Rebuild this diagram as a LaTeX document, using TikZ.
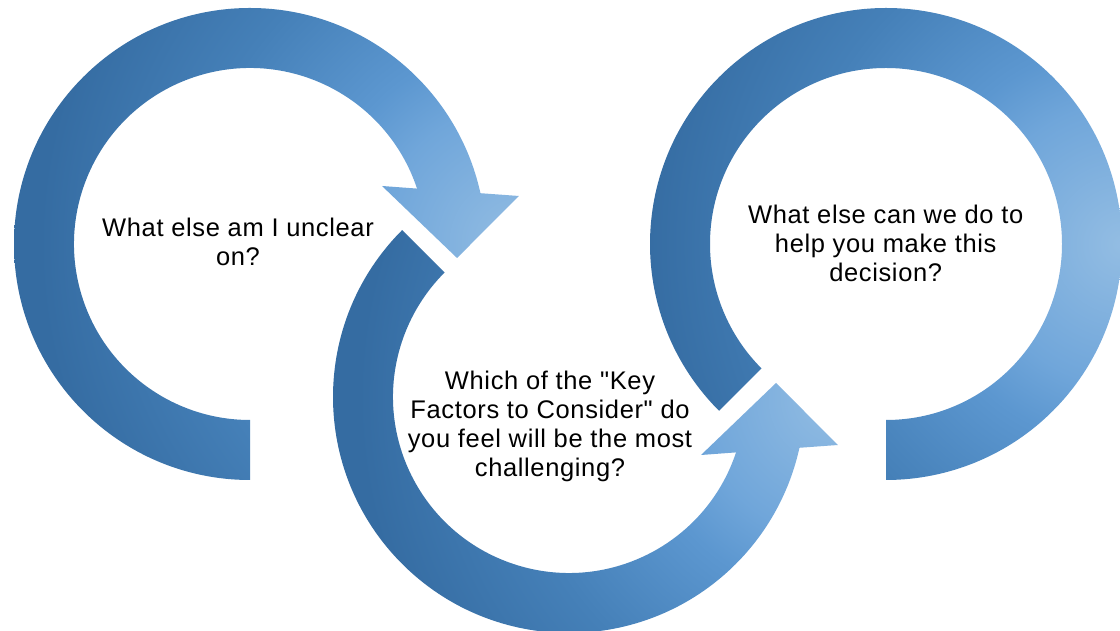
\documentclass[tikz,border=0pt]{standalone}
\usepackage{fontspec}
\setmainfont{Liberation Sans}[Ligatures=TeXOff]
\usetikzlibrary{calc}

% ring fill: pale blue glow at the right-hand side, deepening towards the left
\definecolor{ringA}{HTML}{356CA2}
\definecolor{ringB}{HTML}{4580B8}
\definecolor{ringC}{HTML}{5C97D0}
\definecolor{ringD}{HTML}{70A6DA}
\definecolor{ringE}{HTML}{93BDE3}
% 25bp of this shading = 560 units of the picture
\pgfdeclareradialshading{ringglow}{\pgfpoint{0bp}{0bp}}{%
  color(0bp)=(ringE); color(6.25bp)=(ringD); color(8.9bp)=(ringC);
  color(14.7bp)=(ringB); color(21.4bp)=(ringA); color(50bp)=(ringA)}

\begin{document}
\begin{tikzpicture}[x=1pt,y=1pt,
  ring/.style={draw=none, path picture={
      \shade[shading=ringglow] ($(#1)+(-560,-560)$) rectangle ($(#1)+(560,560)$);}},
  question/.style={font=\fontsize{25.5}{29.1}\selectfont\addfontfeature{LetterSpace=2.5},
    align=center, text=black, inner sep=0pt}]
\useasboundingbox (0,0) rectangle (1120,631);
\fill[white] (0,0) rectangle (1120,631);

% ring centres and the brightest point of each ring
\coordinate (cL) at (250,387);
\coordinate (cM) at (569,234);
\coordinate (cR) at (886,387);
\coordinate (gL) at (519,387);
\coordinate (gM) at (838,234);
\coordinate (gR) at (1122,387);

% left ring: flat tail at the bottom, head pointing down into the middle ring
\path[ring=gL] ($(cL)+(270:236)$) arc[start angle=270, end angle=12.43, radius=236]
  -- ($(cL)+(10.12:273.2)$) -- ($(cL)+(-3.87:207.5)$) -- ($(cL)+(23.72:144.2)$)
  -- ($(cL)+(18.35:176)$) arc[start angle=18.35, end angle=270, radius=176] -- cycle;

% middle ring: cut start at the upper left, head pointing up into the right ring
\path[ring=gM] ($(cM)+(135:236)$) arc[start angle=135, end angle=347.57, radius=236]
  -- ($(cM)+(-10.12:273.2)$) -- ($(cM)+(3.87:207.5)$) -- ($(cM)+(-23.72:144.2)$)
  -- ($(cM)+(341.65:176)$) arc[start angle=341.65, end angle=135, radius=176] -- cycle;

% right ring: cut start at the lower left, flat tail at the bottom
\path[ring=gR] ($(cR)+(225:236)$) arc[start angle=225, end angle=-90, radius=236]
  -- ($(cR)+(-90:176)$) arc[start angle=-90, end angle=225, radius=176] -- cycle;

\node[question] (qL) at (238,388.8) {What else am I unclear\\on?};
\node[question] (qM) at (550,204.4) {Which of the "Key\\Factors to Consider" do\\you feel will be the most\\challenging?};
\node[question] (qR) at (885.7,387.8) {What else can we do to\\help you make this\\decision?};
\end{tikzpicture}
\end{document}
